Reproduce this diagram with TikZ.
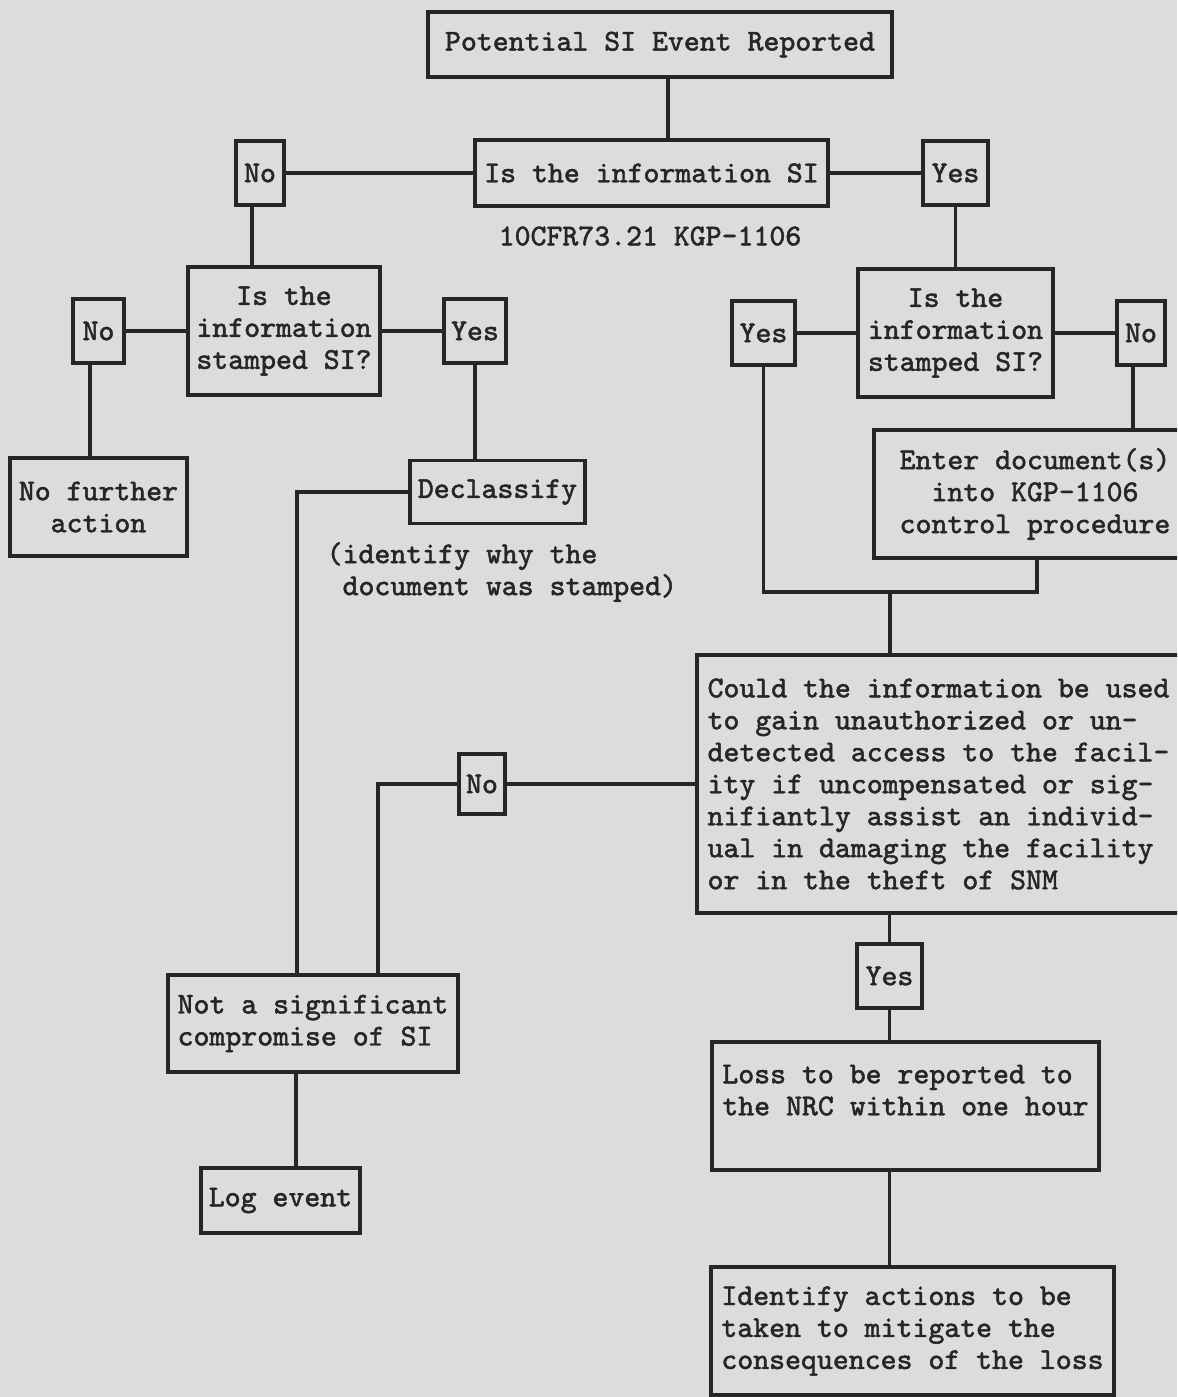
\documentclass[tikz,border=0pt]{standalone}
\usepackage{fontspec}
\newfontfamily\typewr{Latin Modern Mono}[FakeBold=1.4]
\newcommand\tyf{\typewr\fontsize{8.63}{9.1}\selectfont}
\definecolor{paper}{RGB}{220,220,218}
\definecolor{ink}{RGB}{38,38,38}
\begin{document}
\begin{tikzpicture}[y=-1cm, >=stealth,
	box/.style={draw=ink, line width=0.9pt, text=ink, align=center, inner sep=0pt, font=\tyf},
	lbox/.style={box, align=left},
	tag/.style={box, minimum height=0.64cm},
	note/.style={text=ink, inner sep=0pt, font=\tyf},
	wire/.style={draw=ink, line width=0.9pt}]
	% scanned page: grey paper, right edge cut off
	\useasboundingbox (0,0) rectangle (11.77,13.97);
	\fill[paper] (0,0) rectangle (11.77,13.97);
	\clip (0,0) rectangle (11.77,13.97);

	\node[box, minimum width=4.64cm, minimum height=0.65cm] (rep) at (6.60,0.445) {Potential SI Event Reported};
	\node[box, minimum width=3.53cm, minimum height=0.66cm] (info) at (6.515,1.73) {Is the information SI};
	\node[tag, minimum width=0.48cm] (noA) at (2.60,1.73) {No};
	\node[tag, minimum width=0.65cm] (yesA) at (9.555,1.73) {Yes};
	\node[note] (cfr) at (6.50,2.36) {10CFR73.21 KGP-1106};

	% left branch
	\node[box, minimum width=1.92cm, minimum height=1.28cm] (stampL) at (2.84,3.31) {Is the\\information\\stamped SI?};
	\node[tag, minimum width=0.51cm] (noB) at (0.985,3.31) {No};
	\node[tag, minimum width=0.62cm] (yesB) at (4.75,3.31) {Yes};
	\node[box, minimum width=1.77cm, minimum height=0.98cm] (further) at (0.985,5.07) {No further\\action};
	\node[box, minimum width=1.75cm, minimum height=0.63cm] (declass) at (4.975,4.92) {Declassify};
	\node[note, anchor=west, align=left] (why) at (3.26,5.72) {(identify why the\\\phantom{(}document was stamped)};

	% right branch
	\node[box, minimum width=1.95cm, minimum height=1.28cm] (stampR) at (9.555,3.33) {Is the\\information\\stamped SI?};
	\node[tag, minimum width=0.63cm] (yesC) at (7.635,3.33) {Yes};
	\node[tag, minimum width=0.48cm] (noC) at (11.41,3.33) {No};
	\node[box, minimum width=3.22cm, minimum height=1.28cm] (enter) at (10.35,4.94) {Enter document(s)\\into KGP-1106\\control procedure};

	\node[lbox, minimum width=4.83cm, minimum height=2.58cm] (could) at (9.385,7.84) {Could the information be used\\to gain unauthorized or un-\\detected access to the facil-\\ity if uncompensated or sig-\\nifiantly assist an individ-\\ual in damaging the facility\\or in the theft of SNM};
	\node[tag, minimum width=0.46cm, minimum height=0.60cm] (noD) at (4.82,7.84) {No};
	\node[lbox, minimum width=2.90cm, minimum height=0.97cm] (notsig) at (3.13,10.235) {Not a significant\\compromise of SI};
	\node[box, minimum width=1.59cm, minimum height=0.65cm] (log) at (2.805,12.005) {Log event};
	\node[tag, minimum width=0.65cm] (yesE) at (8.895,9.76) {Yes};
	\node[lbox, minimum width=3.87cm, minimum height=1.28cm] (loss) at (9.055,11.06) {Loss to be reported to\\the NRC within one hour\\~};
	\node[lbox, minimum width=4.03cm, minimum height=1.28cm] (ident) at (9.125,13.31) {Identify actions to be\\taken to mitigate the\\consequences of the loss};

	\draw[wire] (6.68,0 |- rep.south) -- (6.68,0 |- info.north);
	\draw[wire] (noA.east) -- (info.west);
	\draw[wire] (info.east) -- (yesA.west);
	\draw[wire] (2.52,0 |- noA.south) -- (2.52,0 |- stampL.north);
	\draw[wire] (noB.east) -- (stampL.west);
	\draw[wire] (stampL.east) -- (yesB.west);
	\draw[wire] (0.90,0 |- noB.south) -- (0.90,0 |- further.north);
	\draw[wire] (yesB.south) -- (yesB.south |- declass.north);
	\draw[wire] (declass.west) -| (2.97,0 |- notsig.north);
	\draw[wire] (yesA.south) -- (yesA.south |- stampR.north);
	\draw[wire] (yesC.east) -- (stampR.west);
	\draw[wire] (stampR.east) -- (noC.west);
	\draw[wire] (11.33,0 |- noC.south) -- (11.33,0 |- enter.north);
	\coordinate (mrg) at (8.90,5.92);
	\draw[wire] (yesC.south) |- (10.37,5.92) -- (10.37,0 |- enter.south);
	\draw[wire] (mrg) -- (mrg |- could.north);
	\draw[wire] (could.west) -- (noD.east);
	\draw[wire] (noD.west) -| (3.78,0 |- notsig.north);
	\draw[wire] (2.96,0 |- notsig.south) -- (2.96,0 |- log.north);
	\draw[wire] (yesE.north |- could.south) -- (yesE.north);
	\draw[wire] (yesE.south) -- (yesE.south |- loss.north);
	\draw[wire] (yesE.south |- loss.south) -- (yesE.south |- ident.north);
\end{tikzpicture}
\end{document}
